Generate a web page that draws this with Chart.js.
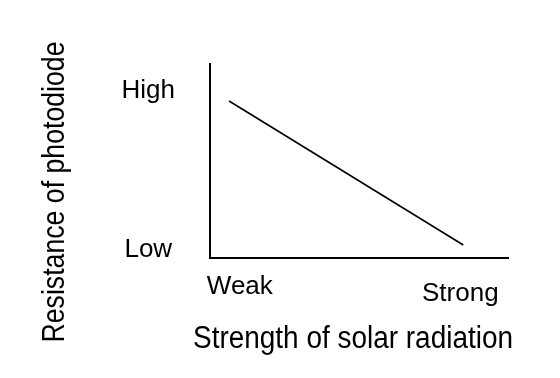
<!DOCTYPE html>
<html>
<head>
<meta charset="utf-8">
<script src="https://cdn.jsdelivr.net/npm/chart.js@4"></script>
<style>
  html, body { margin: 0; padding: 0; background: #fff; }
  #wrap { width: 560px; height: 378px; }
</style>
</head>
<body>
<div id="wrap"><canvas id="chart"></canvas></div>
<script>
// strength of solar radiation (x) vs resistance of photodiode (y), arbitrary 0-10 units
const lineX = [0.64, 8.5];
const lineY = [8.09, 0.67];

const xTickValues = [1.0, 8.4];
const xTickLabels = ['Weak', 'Strong'];
const yTickValues = [0.41, 8.6];
const yTickLabels = ['Low', 'High'];

const xTitle = 'Strength of solar radiation';
const yTitle = 'Resistance of photodiode';

const FONT = '"Liberation Sans", Arial, sans-serif';

// axis titles drawn by hand: the original uses a condensed face, so squeeze with maxWidth
const axisTitles = {
    id: 'axisTitles',
    afterDraw(chart) {
        const ctx = chart.ctx;
        ctx.save();
        ctx.fillStyle = '#000';
        ctx.textAlign = 'center';
        ctx.textBaseline = 'middle';
        ctx.font = '31px ' + FONT;
        ctx.fillText(xTitle, 353, 339, 320);
        ctx.translate(55, 192);
        ctx.rotate(-Math.PI / 2);
        ctx.fillText(yTitle, 0, 0, 301);
        ctx.restore();
    }
};

new Chart(document.getElementById('chart'), {
    type: 'line',
    data: {
        datasets: [{
            data: lineX.map((x, i) => ({ x: x, y: lineY[i] })),
            borderColor: '#000',
            borderWidth: 1.6,
            pointRadius: 0,
            tension: 0
        }]
    },
    options: {
        responsive: true,
        maintainAspectRatio: false,
        animation: false,
        layout: { padding: { top: 64, right: 52, left: 0, bottom: 0 } },
        plugins: { legend: { display: false }, tooltip: { enabled: false } },
        scales: {
            x: {
                type: 'linear',
                min: 0,
                max: 10,
                grid: { display: false, drawTicks: false },
                border: { display: true, color: '#000', width: 2 },
                afterBuildTicks: (s) => { s.ticks = xTickValues.map(v => ({ value: v })); },
                afterFit: (s) => { s.height = 378 - 258; },
                ticks: {
                    autoSkip: false,
                    maxRotation: 0,
                    padding: 13,
                    color: '#000',
                    font: (c) => ({ family: FONT, size: 26, lineHeight: c.index === 1 ? 1.74 : 1.2 }),
                    callback: (v, i) => xTickLabels[i]
                }
            },
            y: {
                type: 'linear',
                min: 0,
                max: 10,
                grid: { display: false, drawTicks: false },
                border: { display: true, color: '#000', width: 2 },
                afterBuildTicks: (s) => { s.ticks = yTickValues.map(v => ({ value: v })); },
                afterFit: (s) => { s.width = 210; },
                ticks: {
                    autoSkip: false,
                    padding: 35,
                    crossAlign: 'center',
                    color: '#000',
                    font: { family: FONT, size: 26 },
                    callback: (v, i) => yTickLabels[i]
                }
            }
        }
    },
    plugins: [axisTitles]
});
</script>
</body>
</html>
